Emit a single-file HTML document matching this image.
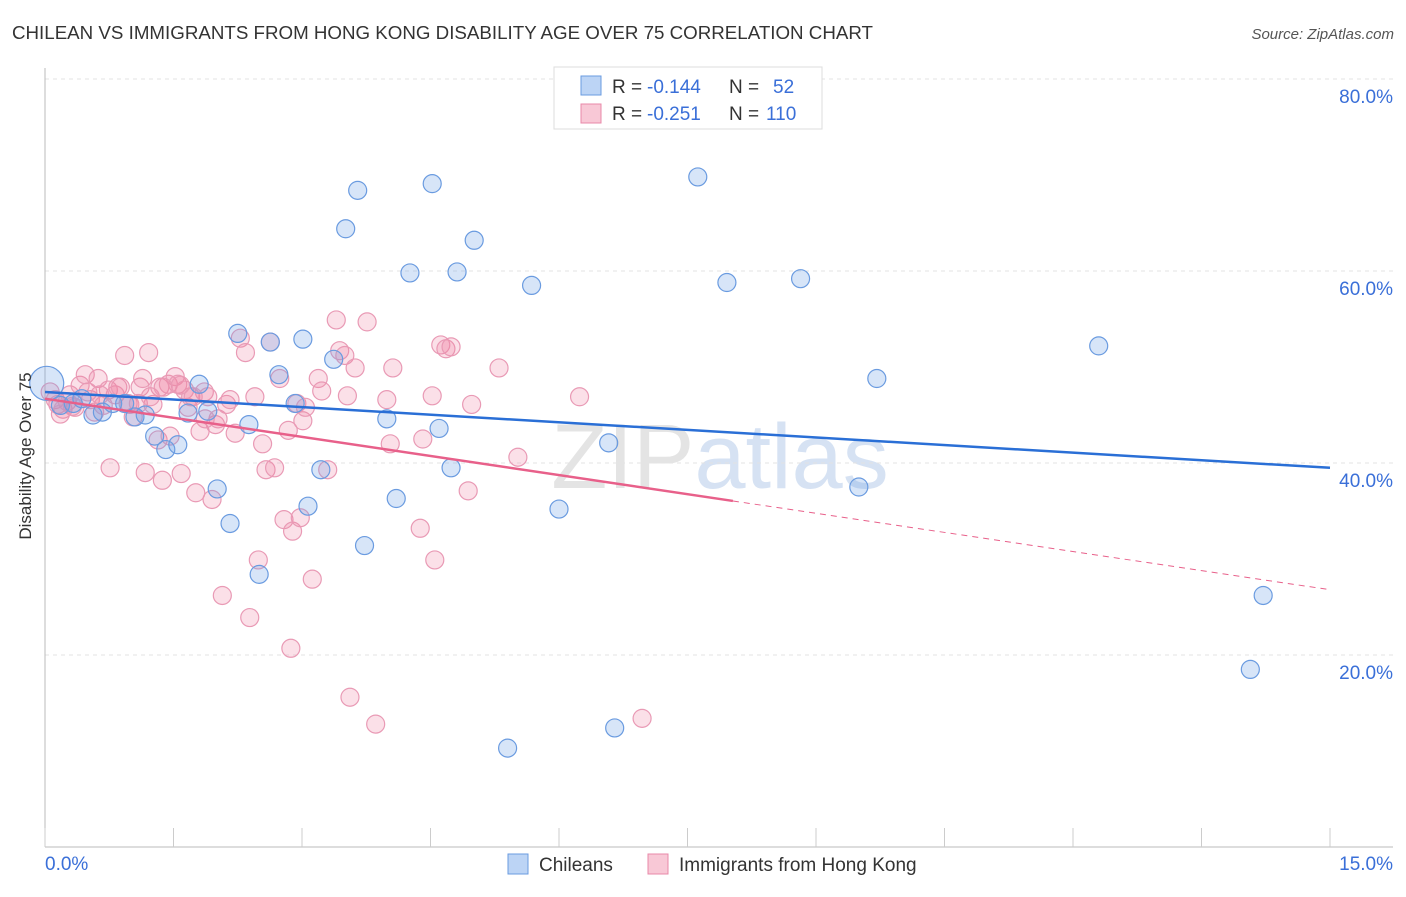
<!DOCTYPE html>
<html><head><meta charset="utf-8"><style>
body{margin:0;background:#fff;font-family:"Liberation Sans",sans-serif}
svg text{font-family:"Liberation Sans",sans-serif}
</style></head><body>
<svg id="c" width="1406" height="892">
<text x="12" y="39" font-size="18" fill="#333" textLength="861" lengthAdjust="spacingAndGlyphs">CHILEAN VS IMMIGRANTS FROM HONG KONG DISABILITY AGE OVER 75 CORRELATION CHART</text>
<text x="1394" y="39" font-size="15" fill="#555" font-style="italic" text-anchor="end">Source: ZipAtlas.com</text>
<text x="720" y="488" font-size="92" fill="#e4e4e4" text-anchor="middle" font-family="Liberation Serif">ZIP<tspan fill="#d6e2f3" font-family="Liberation Sans">atlas</tspan></text>
<g id="grid"></g><g id="pts"></g><g id="lines"></g>
<text x="31" y="456" font-size="17" fill="#333" text-anchor="middle" transform="rotate(-90 31 456)">Disability Age Over 75</text>
<g>
<rect x="554" y="67" width="268" height="62" fill="#fff" stroke="#ddd"/>
<rect x="581" y="76" width="20" height="19" fill="#bcd4f5" stroke="#6a9be0"/>
<text x="612" y="93" font-size="19" fill="#333">R =</text>
<text x="647" y="93" font-size="19" fill="#3a6fd8">-0.144</text>
<text x="729" y="93" font-size="19" fill="#333">N =</text>
<text x="773" y="93" font-size="19" fill="#3a6fd8">52</text>
<rect x="581" y="104" width="20" height="19" fill="#f8c8d6" stroke="#e888a8"/>
<text x="612" y="120" font-size="19" fill="#333">R =</text>
<text x="647" y="120" font-size="19" fill="#3a6fd8">-0.251</text>
<text x="729" y="120" font-size="19" fill="#333">N =</text>
<text x="766" y="120" font-size="19" fill="#3a6fd8">110</text>
</g>
<g>
<rect x="508" y="854" width="20" height="20" fill="#bcd4f5" stroke="#6a9be0"/>
<text x="539" y="871" font-size="19" fill="#333">Chileans</text>
<rect x="648" y="854" width="20" height="20" fill="#f8c8d6" stroke="#e888a8"/>
<text x="679" y="871" font-size="19" fill="#333">Immigrants from Hong Kong</text>
</g>
</svg>
<script>
const yTicks=[20,40,60,80];
const xTickLabels=["0.0%","15.0%"];
const chileX=[0.02,3.65,4.52,7.62,3.51,5.01,4.26,4.81,5.68,7.96,8.82,12.3,2.25,2.63,3.01,3.37,2.73,9.71,1.80,2.92,3.99,6.58,4.6,1.28,1.41,1.55,1.67,1.90,1.17,0.56,0.79,0.93,1.05,0.18,0.33,0.43,3.22,4.74,2.01,4.10,3.07,6.0,2.16,3.73,2.50,9.5,14.22,14.07,5.40,6.65,2.38,0.67];
const chileY=[48.3,68.4,69.1,69.8,64.4,63.2,59.8,59.9,58.5,58.8,59.2,52.2,53.5,52.6,52.9,50.8,49.2,48.8,48.2,46.2,44.6,42.1,43.6,42.8,41.4,41.9,45.2,45.4,45.0,45.0,46.2,46.2,44.8,46.0,46.2,46.7,39.3,39.5,37.3,36.3,35.5,35.2,33.7,31.4,28.4,37.5,26.2,18.5,10.3,12.4,44.0,45.3];
const hkX=[0.06,0.12,0.15,0.21,0.26,0.29,0.35,0.41,0.47,0.53,0.58,0.62,0.68,0.74,0.76,0.82,0.85,0.93,0.99,1.03,1.11,1.14,1.17,1.21,1.26,1.32,1.34,1.37,1.44,1.46,1.52,1.55,1.59,1.63,1.67,1.70,1.76,1.81,1.86,1.90,1.95,1.99,2.02,2.07,2.12,2.16,2.22,2.28,2.34,2.39,2.45,2.49,2.54,2.58,2.63,2.68,2.74,2.79,2.84,2.87,2.89,2.94,2.98,3.01,3.04,3.12,3.19,3.23,3.30,3.40,3.44,3.50,3.53,3.56,3.62,3.76,3.86,3.99,4.03,4.06,4.38,4.41,4.52,4.55,4.62,4.68,4.74,4.94,4.98,5.30,5.52,6.24,6.97,1.58,1.73,1.87,0.97,1.09,1.23,1.38,0.50,0.32,0.18,0.64,0.88];
const hkY=[47.4,46.6,46.1,45.6,46.4,47.1,45.8,48.1,49.2,46.6,45.3,48.8,46.0,47.6,39.5,47.1,47.9,51.2,46.1,44.8,47.9,48.8,39.0,51.5,46.1,42.4,47.9,38.2,48.2,42.8,49.0,48.2,38.9,47.6,45.8,46.9,36.9,43.3,47.4,46.9,36.2,44.0,44.6,26.2,46.1,46.6,43.1,53.0,51.5,23.9,46.9,29.9,42.0,39.3,52.6,39.5,48.8,34.1,43.4,20.7,32.9,46.2,34.3,44.4,45.8,27.9,48.8,47.5,39.3,54.9,51.7,51.2,47.0,15.6,49.9,54.7,12.8,46.6,42.0,49.9,33.2,42.5,47.0,29.9,52.3,51.9,52.1,37.1,46.1,49.9,40.6,46.9,13.4,48.1,46.9,44.6,46.2,46.2,46.9,47.9,47.4,45.9,45.1,47.1,47.9];
const blueLine=[47.4,39.5], pinkLine=[46.7,26.8], pinkSolidEnd=8.03;
const X=v=>45+v*(1285/15), Y=v=>847-v*9.6;
const NS="http://www.w3.org/2000/svg";
function mk(t,a,p){const e=document.createElementNS(NS,t);for(const k in a)e.setAttribute(k,a[k]);p.appendChild(e);return e;}
const g=document.getElementById('grid');
yTicks.forEach(t=>{
 const l=mk('line',{x1:45,x2:1393,y1:Y(t),y2:Y(t),stroke:'#e3e3e3','stroke-dasharray':'4,4'},g);
 
 
 const tx=mk('text',{x:1393,y:Y(t)+24,'font-size':19,fill:'#3a6fd8','text-anchor':'end'},g);tx.textContent=t.toFixed(1)+'%';
 
 
});
mk('line',{x1:45,x2:45,y1:68,y2:847,stroke:'#bbb'},g);
mk('line',{x1:45,x2:1393,y1:847,y2:847,stroke:'#bbb'},g);
for(let i=0;i<=10;i++){mk('line',{x1:X(i*1.5),x2:X(i*1.5),y1:828,y2:847,stroke:'#ccc'},g);}
const xl=mk('text',{x:45,y:870,'font-size':19,fill:'#3a6fd8'},g);xl.textContent=xTickLabels[0];


const xr=mk('text',{x:1393,y:870,'font-size':19,fill:'#3a6fd8','text-anchor':'end'},g);xr.textContent=xTickLabels[1];


const P=document.getElementById('pts');
hkX.forEach((x,i)=>{const c=mk('circle',{cx:X(x),cy:Y(hkY[i]),r:9,fill:'rgba(240,130,165,0.25)',stroke:'#e99ab5','stroke-width':1.2},P);
 
 });
chileX.forEach((x,i)=>{const c=mk('circle',{cx:X(x),cy:Y(chileY[i]),r:i==0?17:9,fill:'rgba(110,160,230,0.28)',stroke:'#6a9be0','stroke-width':1.2},P);
 
 });
const L=document.getElementById('lines');
const pl=v=>pinkLine[0]+(pinkLine[1]-pinkLine[0])*v/15;
const bl=mk('line',{x1:X(0),y1:Y(blueLine[0]),x2:X(15),y2:Y(blueLine[1]),stroke:'#2a6fd6','stroke-width':2.5},L);


const ps=mk('line',{x1:X(0),y1:Y(pl(0)),x2:X(pinkSolidEnd),y2:Y(pl(pinkSolidEnd)),stroke:'#e8608a','stroke-width':2.5},L);


const pd=mk('line',{x1:X(pinkSolidEnd),y1:Y(pl(pinkSolidEnd)),x2:X(15),y2:Y(pl(15)),stroke:'#e8608a','stroke-width':1,'stroke-dasharray':'6,5'},L);


</script>
</body></html>
